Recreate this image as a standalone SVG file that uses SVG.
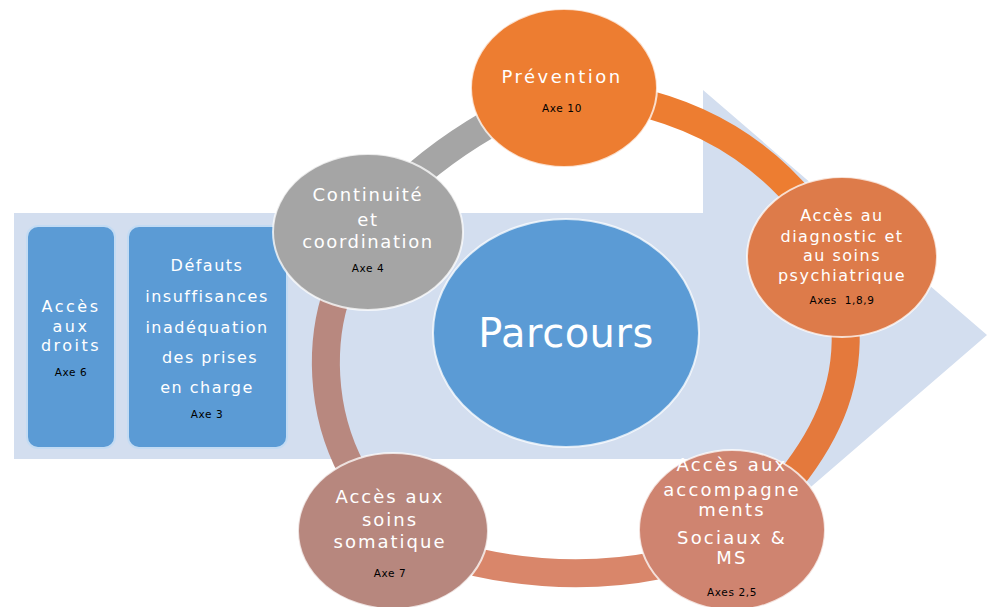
<svg xmlns="http://www.w3.org/2000/svg" width="987" height="607" viewBox="0 0 987 607">
<style>
.t{font-family:"DejaVu Sans",sans-serif;fill:#ffffff;text-anchor:middle}
.f18{font-size:18px;letter-spacing:2px}
.f16{font-size:16px;letter-spacing:1.5px}
.ax{font-family:"DejaVu Sans",sans-serif;font-size:10.5px;fill:#000000;text-anchor:middle;letter-spacing:0.6px}
.ring{fill:none;stroke-width:28;stroke-linecap:butt}
.node{stroke:#ffffff;stroke-opacity:0.75;stroke-width:2}
.box{fill:#5b9bd5;stroke:#c3dbf3;stroke-width:2}
</style>
<rect width="987" height="607" fill="#ffffff"/>
<polygon id="big-arrow" points="14,213 703,213 703,90 987,335 703,580 703,459 14,459" fill="#d3deef"/>
<g id="connectors">
<path class="ring" d="M 395 195 Q 440 150 505 115" stroke="#a5a5a5"/>
<path class="ring" d="M 630 100 C 700 115 760 150 805 205" stroke="#ed7d31"/>
<path class="ring" d="M 845 320 C 850 380 830 430 790 480" stroke="#e4793c"/>
<path class="ring" d="M 660 565 Q 570 583 475 562" stroke="#d9866a"/>
<path class="ring" d="M 352 470 C 320 410 320 340 338 290" stroke="#b8887f"/>
</g>
<g id="acces-droits">
<rect class="box" x="27" y="226" width="88" height="222" rx="11"/>
<text class="t f16" x="71" y="312" style="letter-spacing:2.5px">Accès</text>
<text class="t f16" x="71" y="332" style="letter-spacing:2.5px">aux</text>
<text class="t f16" x="71" y="351" style="letter-spacing:2.5px">droits</text>
<text class="ax" x="71" y="376">Axe 6</text>
</g>
<g id="defauts">
<rect class="box" x="128" y="226" width="159" height="222" rx="11"/>
<text class="t f16" x="207" y="271">Défauts</text>
<text class="t f16" x="207" y="302">insuffisances</text>
<text class="t f16" x="207" y="333">inadéquation</text>
<text class="t f16" x="210" y="363">des prises</text>
<text class="t f16" x="207" y="393">en charge</text>
<text class="ax" x="207" y="418">Axe 3</text>
</g>
<g id="parcours">
<ellipse class="node" cx="566" cy="333" rx="133" ry="114" fill="#5b9bd5" stroke="#cfe2f5"/>
<text class="t" x="566" y="347" style="font-size:40px;letter-spacing:0.5px">Parcours</text>
</g>
<g id="prevention">
<ellipse class="node" cx="564" cy="88" rx="93" ry="79" fill="#ed7d31"/>
<text class="t f18" x="562" y="83" style="letter-spacing:2.5px">Prévention</text>
<text class="ax" x="562" y="112">Axe 10</text>
</g>
<g id="continuite">
<ellipse class="node" cx="368" cy="232" rx="95" ry="78" fill="#a5a5a5"/>
<text class="t f18" x="368" y="201" style="letter-spacing:1.8px">Continuité</text>
<text class="t f18" x="368" y="226" style="letter-spacing:1.8px">et</text>
<text class="t f18" x="368" y="248" style="letter-spacing:1.6px">coordination</text>
<text class="ax" x="368" y="272">Axe 4</text>
</g>
<g id="diagnostic">
<ellipse class="node" cx="842" cy="257" rx="95" ry="80" fill="#dd7b4a"/>
<text class="t f16" x="842" y="221">Accès au</text>
<text class="t f16" x="842" y="242">diagnostic et</text>
<text class="t f16" x="842" y="261">au soins</text>
<text class="t f16" x="842" y="281">psychiatrique</text>
<text class="ax" x="842" y="304">Axes&#160; 1,8,9</text>
</g>
<g id="accompagnements">
<ellipse class="node" cx="732" cy="530" rx="93" ry="80" fill="#cf8470"/>
<text class="t f18" x="732" y="471" style="letter-spacing:2.2px">Accès aux</text>
<text class="t f18" x="732" y="496" style="letter-spacing:2.2px">accompagne</text>
<text class="t f18" x="732" y="516" style="letter-spacing:2.2px">ments</text>
<text class="t f18" x="732" y="544" style="letter-spacing:2.2px">Sociaux &amp;</text>
<text class="t f18" x="732" y="564" style="letter-spacing:2.2px">MS</text>
<text class="ax" x="732" y="596">Axes 2,5</text>
</g>
<g id="somatique">
<ellipse class="node" cx="393" cy="531" rx="95" ry="78" fill="#b7877e"/>
<text class="t f18" x="390" y="503" style="letter-spacing:2px">Accès aux</text>
<text class="t f18" x="390" y="526" style="letter-spacing:2px">soins</text>
<text class="t f18" x="390" y="548" style="letter-spacing:2px">somatique</text>
<text class="ax" x="390" y="577">Axe 7</text>
</g>
</svg>
